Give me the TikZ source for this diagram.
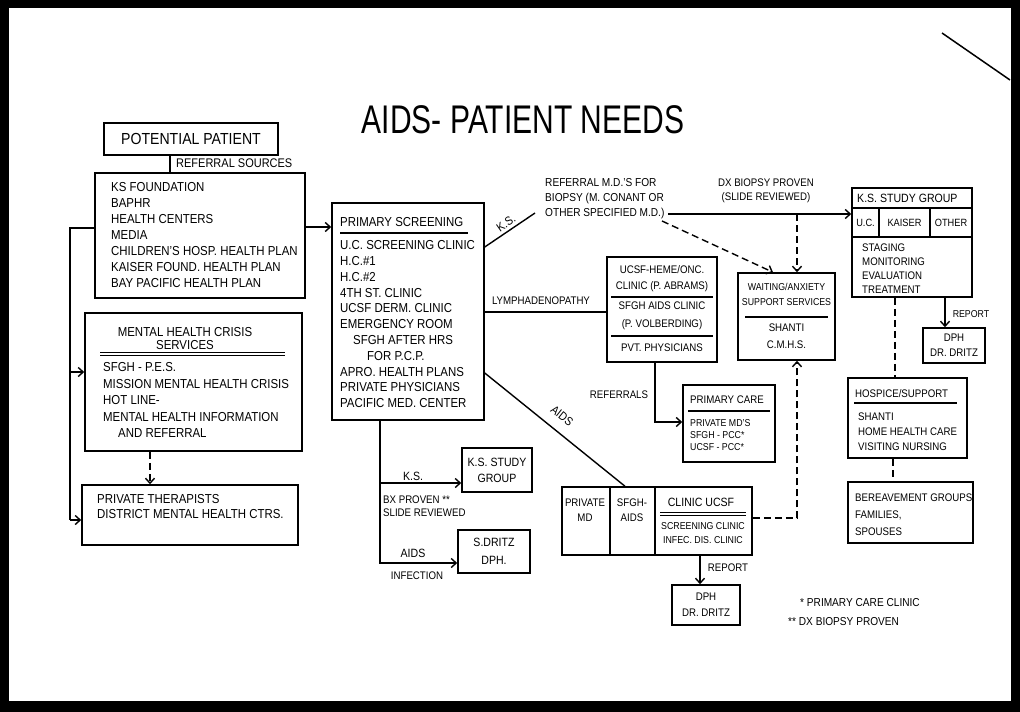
\documentclass[tikz,border=0pt]{standalone}
\usepackage{fontspec}
\setmainfont{Liberation Sans}[FakeStretch=0.88]
\newfontfamily\titlefont{Liberation Sans}[FakeStretch=0.75]
\usetikzlibrary{arrows.meta,calc}
\begin{document}
\begin{tikzpicture}[x=1pt,y=-1pt,
  box/.style={draw, line width=1.5pt, inner sep=0pt, rectangle},
  sz/.style 2 args={minimum width=#1pt, minimum height=#2pt},
  tx/.style={inner sep=0pt, align=left, font=\fontsize{13}{16}\selectfont},
  sm/.style={inner sep=0pt, align=left, font=\fontsize{11}{14}\selectfont},
  ln/.style={line width=1.4pt},
  arr/.style={line width=1.4pt, -{Straight Barb[length=5pt,width=9pt]}},
  dsh/.style={line width=1.4pt, dash pattern=on 7pt off 4pt},
  darr/.style={dsh, -{Straight Barb[length=5pt,width=9pt]}},
]
\useasboundingbox (0,0) rectangle (1020,712);
\fill[black] (0,0) rectangle (1020,712);
\fill[white] (9,8) rectangle (1011,701);
\draw[line width=1.5pt] (942,33) -- (1010,80);

% title
\node[inner sep=0pt, font=\titlefont\fontsize{40}{44}\selectfont] (title) at (523,120) {AIDS- PATIENT NEEDS};

% boxes
\node[box, sz={174}{32}, font=\fontsize{16}{18}\selectfont] (pp) at (191,139) {POTENTIAL PATIENT};
\node[box, sz={210}{125}] (ref) at (200,235.5) {};
\node[box, sz={217}{138}] (mh) at (193.5,382) {};
\node[box, sz={216}{60}] (pt) at (190,515) {};
\node[box, sz={152}{217}] (ps) at (408,311.5) {};
\node[box, sz={70}{44}, align=center, font=\fontsize{12}{16}\selectfont] (ks1) at (497,470) {K.S. STUDY\\GROUP};
\node[box, sz={72}{43}, align=center, font=\fontsize{12}{18}\selectfont] (sd) at (494,551.5) {S.DRITZ\\DPH.};
\node[box, sz={110}{105}] (heme) at (662,309.5) {};
\node[box, sz={92}{77}] (pc) at (729,423.5) {};
\node[box, sz={97}{87}] (wait) at (786.5,316.5) {};
\node[box, sz={190}{68}] (pmd) at (657,521) {};
\node[box, sz={68}{40}, align=center, font=\fontsize{11}{16}\selectfont] (dph1) at (706,605) {DPH\\DR. DRITZ};
\node[box, sz={120}{109}] (ks2) at (912,242.5) {};
\node[box, sz={62}{35}, align=center, font=\fontsize{11}{15}\selectfont] (dph2) at (954,345.5) {DPH\\DR. DRITZ};
\node[box, sz={119}{80}] (hos) at (907.5,418) {};
\node[box, sz={125}{61}] (ber) at (910.5,512.5) {};

% texts in left column
\node[inner sep=0pt, anchor=west, font=\fontsize{12.5}{14}\selectfont] (rsl) at (176,163) {REFERRAL SOURCES};
\node[tx, anchor=north west] (reftx) at (111,182.5) {KS FOUNDATION\\BAPHR\\HEALTH CENTERS\\MEDIA\\CHILDREN'S HOSP. HEALTH PLAN\\KAISER FOUND. HEALTH PLAN\\BAY PACIFIC HEALTH PLAN};
\node[inner sep=0pt, align=center, anchor=north, font=\fontsize{13}{13}\selectfont] (mhh) at (185,327) {MENTAL HEALTH CRISIS\\SERVICES};
\draw[line width=1pt] (100,352) -- (285,352) (100,355.5) -- (285,355.5);
\node[tx, anchor=north west, font=\fontsize{13}{16.5}\selectfont] (mhtx) at (103,362.5) {SFGH - P.E.S.\\MISSION MENTAL HEALTH CRISIS\\HOT LINE-\\MENTAL HEALTH INFORMATION\\\hspace*{15pt}AND REFERRAL};
\node[tx, anchor=north west, font=\fontsize{13}{15}\selectfont] (pttx) at (97,494.5) {PRIVATE THERAPISTS\\DISTRICT MENTAL HEALTH CTRS.};

% primary screening
\node[tx, anchor=west] (psh) at (340,222) {PRIMARY SCREENING};
\draw[line width=1.1pt] (340,233) -- (468,233);
\node[tx, anchor=north west, font=\fontsize{13}{15.8}\selectfont] (pstx) at (340,240.5) {U.C. SCREENING CLINIC\\H.C.\#1\\H.C.\#2\\4TH ST. CLINIC\\UCSF DERM. CLINIC\\EMERGENCY ROOM\\\hspace*{13pt}SFGH AFTER HRS\\\hspace*{27pt}FOR P.C.P.\\APRO. HEALTH PLANS\\PRIVATE PHYSICIANS\\PACIFIC MED. CENTER};

% labels below primary screening
\node[inner sep=0pt, font=\fontsize{12}{14}\selectfont] (lks) at (413,476) {K.S.};
\node[inner sep=0pt, align=left, anchor=north west, font=\fontsize{11}{13}\selectfont] (lbx) at (383,496) {BX PROVEN **\\SLIDE REVIEWED};
\node[inner sep=0pt, font=\fontsize{12}{14}\selectfont] (laids) at (413,553) {AIDS};
\node[inner sep=0pt, font=\fontsize{11}{14}\selectfont] (linf) at (417,576) {INFECTION};

% top middle labels
\node[sm, anchor=north west, font=\fontsize{11.5}{15}\selectfont] (refmd) at (545,178) {REFERRAL M.D.'S FOR\\BIOPSY (M. CONANT OR\\OTHER SPECIFIED M.D.)};
\node[sm, align=center] (dx) at (766,191) {DX BIOPSY PROVEN\\(SLIDE REVIEWED)};
\node[inner sep=0pt, rotate=34.8, font=\fontsize{12}{14}\selectfont] (kdiag) at (506,223) {K.S.};
\node[sm] (lym) at (541,301) {LYMPHADENOPATHY};
\node[inner sep=0pt, rotate=-38.6, font=\fontsize{12}{14}\selectfont] (adiag) at (562,416) {AIDS};

% heme box
\node[sm, align=center, font=\fontsize{11}{16.5}\selectfont] (hm1) at (662,278.5) {UCSF-HEME/ONC.\\CLINIC (P. ABRAMS)};
\draw[line width=1.1pt] (611,297) -- (713,297) (611,336) -- (713,336);
\node[sm, align=center, font=\fontsize{11}{17.5}\selectfont] (hm2) at (662,316) {SFGH AIDS CLINIC\\(P. VOLBERDING)};
\node[sm] (hm3) at (662,348) {PVT. PHYSICIANS};

% waiting box
\node[sm, align=center, font=\fontsize{10}{15}\selectfont] (wt1) at (786.5,294.5) {WAITING/ANXIETY\\SUPPORT SERVICES};
\draw[line width=1.1pt] (745,317) -- (828,317);
\node[sm, align=center, font=\fontsize{11}{17}\selectfont] (wt2) at (786.5,336.5) {SHANTI\\C.M.H.S.};

% primary care
\node[sm, anchor=west] (pch) at (690,400) {PRIMARY CARE};
\draw[line width=1.1pt] (688,411) -- (770,411);
\node[sm, anchor=north west, font=\fontsize{10}{12}\selectfont] (pctx) at (690,419.5) {PRIVATE MD'S\\SFGH - PCC*\\UCSF - PCC*};
\node[sm] (lref) at (619,395) {REFERRALS};

% private MD box
\draw[line width=1.4pt] (610,487) -- (610,555) (655,487) -- (655,555);
\node[sm, align=center, font=\fontsize{11}{15}\selectfont] (pm1) at (585,510.5) {PRIVATE\\MD};
\node[sm, align=center, font=\fontsize{11}{15}\selectfont] (pm2) at (632,510.5) {SFGH-\\AIDS};
\node[sm, font=\fontsize{12}{14}\selectfont] (pm3) at (701,502) {CLINIC UCSF};
\draw[line width=1pt] (660,512.5) -- (746,512.5) (660,515.5) -- (746,515.5);
\node[sm, align=center, font=\fontsize{10}{14}\selectfont] (pm4) at (703,533.5) {SCREENING CLINIC\\INFEC. DIS. CLINIC};
\node[sm] (rep1) at (728,568) {REPORT};

% KS study group (right)
\node[sm, anchor=west, font=\fontsize{12}{14}\selectfont] (ksh) at (857,198) {K.S. STUDY GROUP};
\draw[line width=1.3pt] (ks2.west |- 0,208) -- (ks2.east |- 0,208) (ks2.west |- 0,237) -- (ks2.east |- 0,237) (879,208) -- (879,237) (930,208) -- (930,237);
\node[sm, font=\fontsize{10.5}{14}\selectfont] (ksa) at (865.5,222.5) {U.C.};
\node[sm, font=\fontsize{10.5}{14}\selectfont] (ksb) at (904.5,222.5) {KAISER};
\node[sm, font=\fontsize{10.5}{14}\selectfont] (ksc) at (951,222.5) {OTHER};
\node[sm, anchor=north west] (kstx) at (862,244) {STAGING\\MONITORING\\EVALUATION\\TREATMENT};
\node[sm, font=\fontsize{10}{12}\selectfont] (rep2) at (971,314) {REPORT};

% hospice / bereavement
\node[sm, anchor=west] (hosh) at (855,394) {HOSPICE/SUPPORT};
\draw[line width=1.1pt] (854,403) -- (957,403);
\node[sm, anchor=north west, font=\fontsize{11}{15}\selectfont] (hostx) at (858,413) {SHANTI\\HOME HEALTH CARE\\VISITING NURSING};
\node[sm, anchor=north west, font=\fontsize{11}{17}\selectfont] (bertx) at (855,494) {BEREAVEMENT GROUPS\\FAMILIES,\\SPOUSES};

% footnotes
\node[sm, anchor=west, font=\fontsize{11.5}{14}\selectfont] (fn1) at (800,603) {* PRIMARY CARE CLINIC};
\node[sm, anchor=west, font=\fontsize{11.5}{14}\selectfont] (fn2) at (788,622) {** DX BIOPSY PROVEN};

% junction coordinates
\coordinate (lj) at (70,228);
\coordinate (lm) at (70,372);
\coordinate (lb) at (70,520);
\coordinate (psj) at (380,483);
\coordinate (ksend) at (535,213);
\coordinate (dxs) at (668,214);
\coordinate (dxj) at (797,214);
\coordinate (dgs) at (662,221);

% connectors
\draw[ln] (pp.south -| 170,0) -- (ref.north -| 170,0);
\draw[arr] (ref.east |- 0,227) -- (ps.west |- 0,227);
\draw[ln] (ref.west |- 0,228) -- (lj) -- (lb);
\draw[arr] (lm) -- (mh.west |- 0,372);
\draw[arr] (lb) -- (pt.west |- 0,520);
\draw[darr] (mh.south -| 150,0) -- (pt.north -| 150,0);
\draw[arr] (ps.south -| 380,0) |- (sd.west |- 0,563);
\draw[arr] (psj) -- (ks1.west |- 0,483);
\draw[ln] (ps.east |- 0,247) -- (ksend);
\draw[arr] (dxs) -- (ks2.west |- 0,214);
\draw[darr] (dxj) -- (wait.north -| 797,0);
\draw[darr] (dgs) -- (wait.north -| 773,0);
\draw[ln] (ps.east |- 0,312) -- (heme.west |- 0,312);
\draw[ln] (ps.east |- 0,373) -- (pmd.north -| 625,0);
\draw[arr] (heme.south -| 655,0) |- (pc.west |- 0,422);
\draw[darr] (pmd.east |- 0,518) -| (wait.south -| 797,0);
\draw[arr] (pmd.south -| 700,0) -- (dph1.north -| 700,0);
\draw[arr] (ks2.south -| 945,0) -- (dph2.north -| 945,0);
\draw[dsh] (ks2.south -| 895,0) -- (hos.north -| 895,0);
\draw[dsh] (hos.south -| 893,0) -- (ber.north -| 893,0);
\end{tikzpicture}
\end{document}
